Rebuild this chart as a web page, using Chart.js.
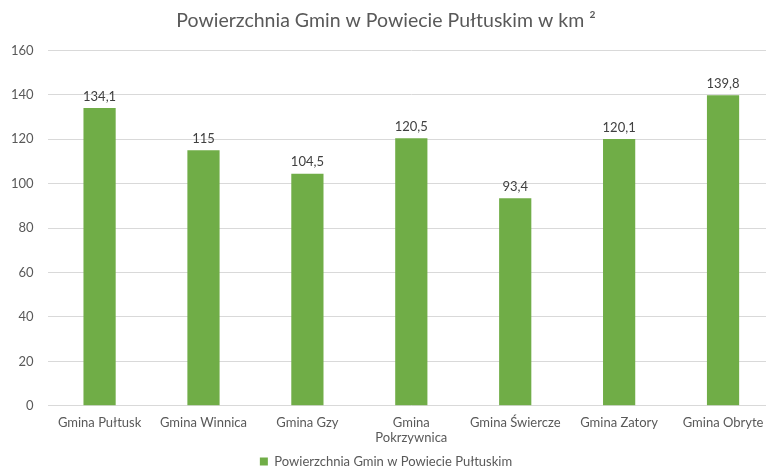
<!DOCTYPE html>
<html><head><meta charset="utf-8">
<script src="https://cdn.jsdelivr.net/npm/chart.js@4/dist/chart.umd.min.js"></script>
<style>
html,body{margin:0;padding:0;background:#fff;overflow:hidden;}
#wrap{width:775px;height:469px;position:relative;}
</style></head>
<body><div id="wrap"><canvas id="c"></canvas></div>
<script>
const categories = [["Gmina Pułtusk"],["Gmina Winnica"],["Gmina Gzy"],["Gmina","Pokrzywnica"],["Gmina Świercze"],["Gmina Zatory"],["Gmina Obryte"]];
const areaValues = [134.1, 115, 104.5, 120.5, 93.4, 120.1, 139.8];
const seriesLabel = "Powierzchnia Gmin w Powiecie Pułtuskim";
const chartTitle = "Powierzchnia Gmin w Powiecie Pułtuskim w km ²";

const FONT = "Lato, 'Open Sans', sans-serif";
const fmt = v => String(v).replace('.', ',');

const valueLabels = {
  id: 'valueLabels',
  afterDatasetsDraw(chart) {
    const ctx = chart.ctx;
    const meta = chart.getDatasetMeta(0);
    ctx.save();
    ctx.font = "13px " + FONT;
    ctx.fillStyle = "#404040";
    ctx.textAlign = "center";
    ctx.textBaseline = "bottom";
    meta.data.forEach((bar, i) => {
      ctx.fillText(fmt(chart.data.datasets[0].data[i]), bar.x, bar.y - 5);
    });
    ctx.restore();
  }
};

new Chart(document.getElementById('c'), {
  type: 'bar',
  data: {
    labels: categories,
    datasets: [{
      label: seriesLabel,
      data: areaValues,
      backgroundColor: '#70AD47',
      barPercentage: 0.31,
      categoryPercentage: 1.0
    }]
  },
  options: {
    responsive: true,
    maintainAspectRatio: false,
    animation: false,
    layout: { padding: { left: -3, right: 0, top: 6, bottom: -9 } },
    plugins: {
      title: {
        display: true, text: chartTitle, color: '#595959',
        font: { family: FONT, size: 19.5, weight: 'normal' },
        padding: { top: 3, bottom: 18 }
      },
      legend: {
        position: 'bottom',
        labels: { color: '#595959', font: { family: FONT, size: 13 }, boxWidth: 8, boxHeight: 8, padding: 0 }
      },
      tooltip: { enabled: false }
    },
    scales: {
      y: {
        min: 0, max: 160,
        ticks: { stepSize: 20, color: '#595959', font: { family: FONT, size: 13 }, padding: 14 },
        grid: { color: '#d9d9d9', drawTicks: false },
        border: { display: false }
      },
      x: {
        ticks: { color: '#595959', font: { family: FONT, size: 13 }, padding: 9, maxRotation: 0, autoSkip: false },
        grid: { display: false, drawTicks: false },
        border: { display: false }
      }
    }
  },
  plugins: [valueLabels]
});
</script>
</body></html>
